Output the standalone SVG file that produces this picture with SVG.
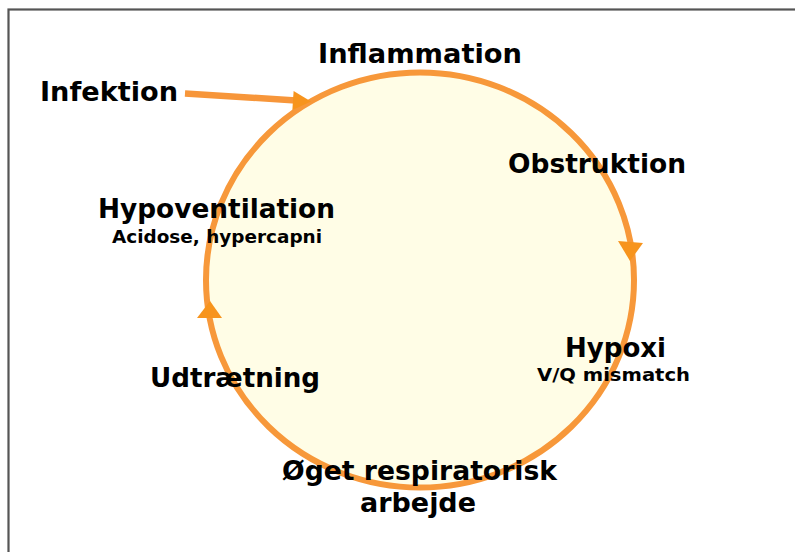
<svg xmlns="http://www.w3.org/2000/svg" width="795" height="552" viewBox="0 0 795 552">
<style>
.t{font-family:"DejaVu Sans","Verdana",sans-serif;font-weight:bold;fill:#000;text-anchor:middle}
.big{font-size:26px}
.small{font-size:18px}
.ring{fill:#FFFDE6;stroke:#F7983A;stroke-width:6}
.head{fill:#F7941D}
.shaft{stroke:#F7963A;stroke-width:6.5;fill:none}
</style>
<rect x="0" y="0" width="795" height="552" fill="#fff"/>
<rect x="8.5" y="9.5" width="800" height="560" fill="none" stroke="#555" stroke-width="2.2"/>
<g id="cycle">
<ellipse class="ring" cx="420" cy="280" rx="214" ry="207.5"/>
</g>
<g id="connectors">
<line class="shaft" x1="185" y1="93.5" x2="296" y2="100.4"/>
<polygon class="head" points="311,101.6 293.6,91.1 292.4,110.1" fill="#F7963A"/>
<polygon class="head" points="618,241 643,243 630,261"/>
<polygon class="head" points="197,318 222,318 210,301"/>
</g>
<g id="n-inflammation"><text class="t big" x="420" y="63" textLength="204" lengthAdjust="spacingAndGlyphs">Inflammation</text></g>
<g id="n-infektion"><text class="t big" x="109" y="101" textLength="138" lengthAdjust="spacingAndGlyphs">Infektion</text></g>
<g id="n-obstruktion"><text class="t big" x="597" y="173" textLength="178" lengthAdjust="spacingAndGlyphs">Obstruktion</text></g>
<g id="n-hypoventilation">
<text class="t big" x="216.5" y="218" textLength="237" lengthAdjust="spacingAndGlyphs">Hypoventilation</text>
<text class="t small" x="217" y="243" textLength="210" lengthAdjust="spacingAndGlyphs">Acidose, hypercapni</text>
</g>
<g id="n-hypoxi">
<text class="t big" x="615.5" y="357" textLength="101" lengthAdjust="spacingAndGlyphs">Hypoxi</text>
<text class="t small" x="613.5" y="381" textLength="153" lengthAdjust="spacingAndGlyphs">V/Q mismatch</text>
</g>
<g id="n-udtraetning"><text class="t big" x="235" y="387" textLength="170" lengthAdjust="spacingAndGlyphs">Udtrætning</text></g>
<g id="n-arbejde">
<text class="t big" x="419.5" y="480" textLength="275" lengthAdjust="spacingAndGlyphs">Øget respiratorisk</text>
<text class="t big" x="418" y="512" textLength="116" lengthAdjust="spacingAndGlyphs">arbejde</text>
</g>
</svg>
